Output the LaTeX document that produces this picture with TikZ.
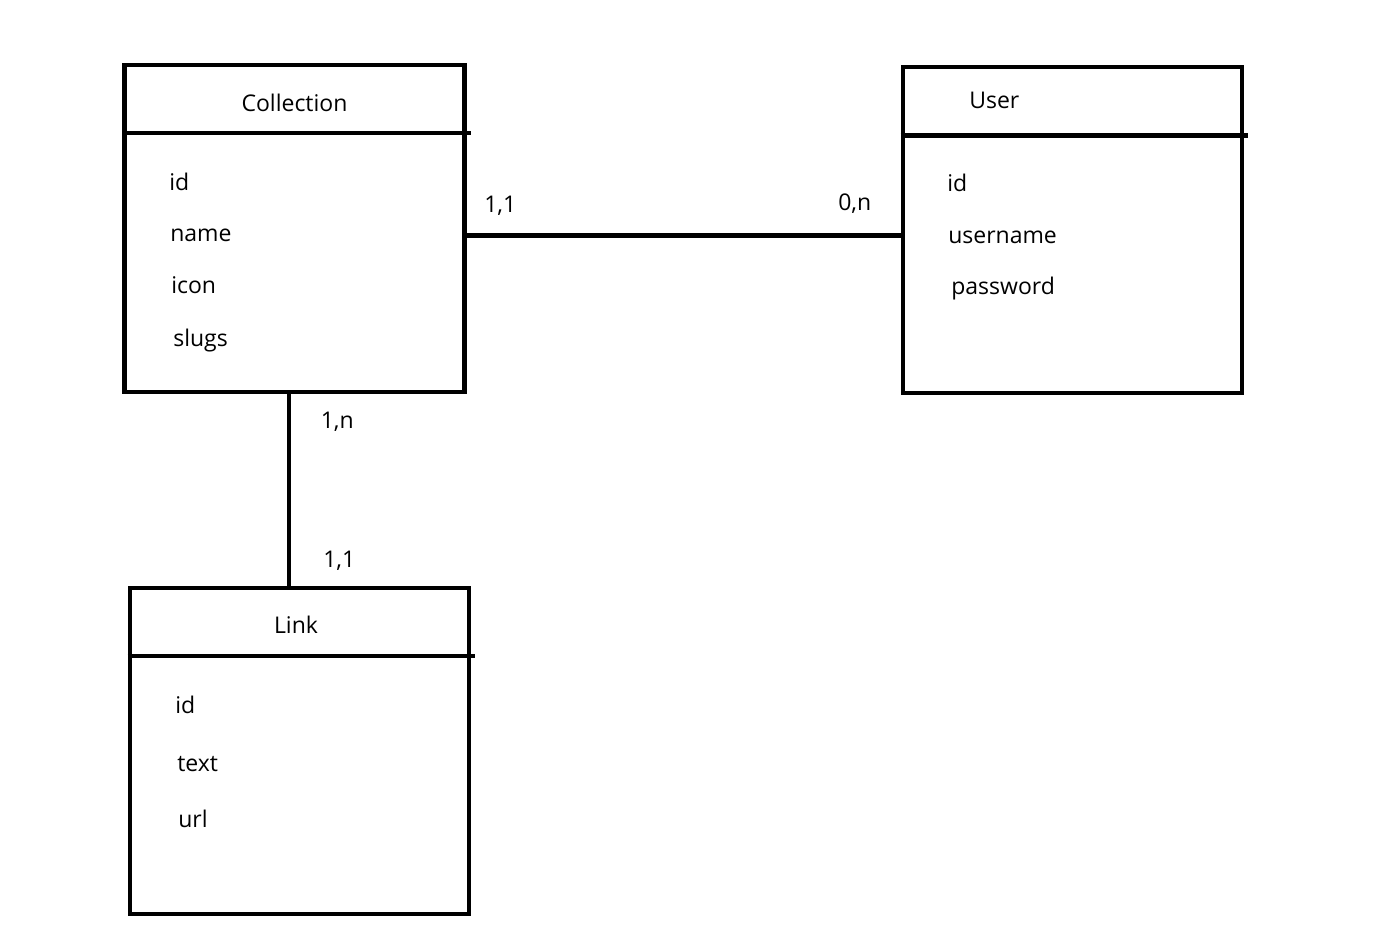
\documentclass[tikz,border=0pt]{standalone}
\usepackage{fontspec}
\setmainfont{Open Sans}
\usetikzlibrary{positioning}

\begin{document}
\begin{tikzpicture}[x=0.5pt,y=-0.5pt,line width=2.3pt]
		\tikzstyle{entity}=[draw,shape=rectangle,inner sep=0pt]
		\tikzstyle{attr}=[anchor=base west,inner sep=0pt,font=\fontsize{11.5}{13}\selectfont]
		\tikzstyle{title}=[anchor=base,inner sep=0pt,font=\fontsize{11.5}{13}\selectfont]
		\tikzstyle{card}=[anchor=base west,inner sep=0pt,font=\fontsize{11.5}{13}\selectfont]

		\useasboundingbox (0,0) rectangle (1384,932);

		% boxes
		\node[entity,minimum width=170pt,minimum height=163.5pt](colbox) at (294.5,228.5){};
		\node[entity,minimum width=169.5pt,minimum height=163pt](userbox) at (1072.5,230){};
		\node[entity,minimum width=169.5pt,minimum height=163pt](linkbox) at (299.5,751){};

		% header rules
		\draw (colbox.west |- 0,133) -- (471,133);
		\draw (userbox.west |- 0,135.5) -- (1248,135.5);
		\draw (linkbox.west |- 0,656) -- (475,656);

		% titles
		\node[title](coltitle) at (294.5,111){Collection};
		\node[attr](usertitle) at (967,108){User};
		\node[title](linktitle) at (296,633){Link};

		% attributes
		\node[attr](cid) at (167,190){id};
		\node[attr](cname) at (168,241){name};
		\node[attr](cicon) at (169,293){icon};
		\node[attr](cslugs) at (171,346){slugs};

		\node[attr](uid) at (945,191){id};
		\node[attr](uname) at (946,243){username};
		\node[attr](upass) at (949,294){password};

		\node[attr](lid) at (173,713){id};
		\node[attr](ltext) at (175,771){text};
		\node[attr](lurl) at (176,827){url};

		% relations
		\draw ([yshift=-3.5pt]colbox.east) -- ([yshift=-2.75pt]userbox.west);
		\draw ([xshift=-2.75pt]colbox.south) -- ([xshift=-5.25pt]linkbox.north);

		\node[card](c11) at (482,212){1,1};
		\node[card](c0n) at (836,210){0,n};
		\node[card](c1n) at (318.5,428){1,n};
		\node[card](l11) at (321,567){1,1};
	\end{tikzpicture}
\end{document}
